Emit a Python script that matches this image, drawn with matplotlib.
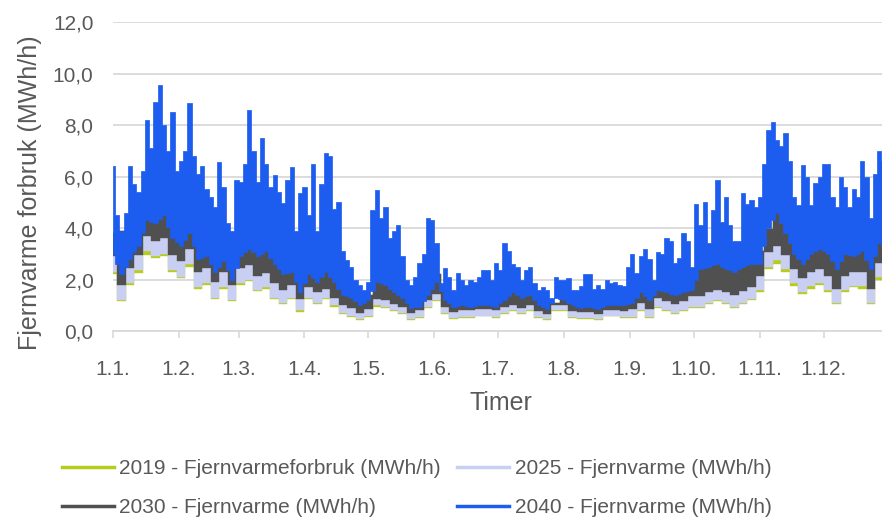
import numpy as np
import matplotlib
matplotlib.use("Agg")
import matplotlib.pyplot as plt
from matplotlib.lines import Line2D

plt.rcParams['font.family'] = ['Liberation Sans Narrow', 'Liberation Sans', 'DejaVu Sans']

# 2040 - upper envelope of the hourly values, every 2nd day (MWh/h)
blue_top = [6.4, 4.5, 3.9, 4.6, 6.4, 5.7, 5.4, 6.2, 8.2, 7.1, 8.9, 9.55, 8.0, 7.0, 8.5, 6.2,
            6.6, 7.0, 8.85, 6.8, 6.1, 6.4, 5.5, 5.2, 4.8, 6.56, 5.6, 4.2, 3.9, 5.86, 5.8, 6.5,
            8.6, 7.0, 5.8, 7.5, 6.5, 5.6, 6.05, 5.4, 4.97, 5.86, 6.37, 3.9, 5.35, 5.6, 4.5, 6.5,
            3.9, 5.7, 6.9, 6.8, 4.75, 5.0, 3.1, 2.75, 2.5, 2.0, 1.8, 1.6, 1.9, 4.7, 5.47, 4.4,
            4.8, 3.6, 3.9, 4.1, 2.9, 2.0, 1.8, 2.1, 2.65, 3.0, 4.4, 4.3, 3.4, 1.85, 2.45, 2.1,
            1.6, 2.25, 2.0, 1.8, 2.0, 1.9, 2.1, 2.35, 2.35, 2.0, 2.65, 2.35, 3.4, 3.1, 2.6, 2.5,
            2.0, 2.35, 2.5, 1.85, 1.6, 1.7, 1.6, 1.3, 2.1, 2.0, 2.0, 2.05, 1.6, 1.6, 1.75, 2.2,
            2.2, 1.65, 1.8, 1.65, 2.0, 1.85, 1.9, 1.8, 1.75, 2.5, 3.0, 2.25, 2.9, 3.2, 2.8, 2.0,
            3.05, 3.0, 3.6, 3.5, 2.65, 2.85, 3.8, 3.5, 2.5, 4.95, 4.1, 5.0, 3.4, 4.7, 5.85, 4.25,
            5.2, 4.1, 3.5, 3.5, 5.35, 4.95, 5.1, 4.8, 5.2, 6.5, 7.8, 8.1, 7.4, 7.2, 7.7, 6.6,
            5.2, 4.9, 6.45, 6.0, 4.9, 5.75, 6.0, 6.5, 6.5, 5.2, 4.8, 6.0, 5.6, 4.8, 5.5, 5.2,
            6.6, 6.0, 4.4, 6.1, 7.0, 6.6, 6.9]

# lower envelopes, every 4th day (MWh/h)
blue_bottom = [3.0, 2.2, 2.8, 3.3, 4.3, 4.2, 4.5, 3.6, 3.3, 3.8, 2.8, 2.9, 2.3, 2.7, 2.0, 2.9,
               3.2, 2.9, 3.1, 2.6, 2.2, 2.3, 1.5, 2.2, 1.9, 2.3, 1.9, 1.4, 1.3, 1.0, 1.2,
               1.9, 1.8, 1.5, 1.3, 0.9, 0.95, 1.4, 1.9, 1.2, 0.95, 1.0, 0.95, 1.0, 1.0, 0.95, 1.2,
               1.5, 1.3, 1.4, 1.0, 0.85, 1.3, 1.2, 1.0, 0.9, 0.95, 0.85, 1.0, 1.0, 1.0,
               1.1, 1.5, 1.2, 1.6, 1.5, 1.4, 1.5, 1.6, 2.4, 2.5, 2.6, 2.4, 2.3, 2.5, 2.6,
               2.6, 4.0, 4.6, 3.8, 3.0, 2.6, 3.0, 3.2, 3.0, 2.4, 3.0, 2.9, 3.1, 2.4, 3.4,
               3.2]
gray_bottom = [2.9, 1.8, 2.45, 2.95, 3.7, 3.5, 3.6, 2.95, 2.7, 3.2, 2.3, 2.45, 1.9, 2.3, 1.8, 2.45,
               2.55, 2.15, 2.25, 1.85, 1.6, 1.8, 1.25, 1.7, 1.5, 1.65, 1.3, 1.0, 0.9, 0.7, 0.85,
               1.25, 1.2, 1.05, 0.95, 0.7, 0.8, 1.2, 1.45, 0.95, 0.75, 0.8, 0.8, 0.85, 0.85, 0.8, 0.95,
               1.0, 0.9, 1.0, 0.77, 0.67, 1.0, 1.0, 0.77, 0.72, 0.72, 0.67, 0.82, 0.82, 0.77,
               0.85, 1.1, 0.85, 1.3, 1.15, 1.05, 1.15, 1.35, 1.35, 1.5, 1.6, 1.5, 1.4, 1.55, 1.7,
               2.15, 3.05, 3.3, 2.95, 2.4, 2.05, 2.3, 2.4, 2.15, 1.65, 2.15, 2.3, 2.3, 1.65, 2.65,
               2.55]
lav_bottom = [2.3, 1.2, 1.85, 2.35, 3.1, 2.9, 3.0, 2.35, 2.1, 2.6, 1.7, 1.85, 1.3, 1.7, 1.2, 1.85,
              2.0, 1.6, 1.7, 1.3, 1.1, 1.3, 0.8, 1.3, 1.1, 1.3, 1.0, 0.7, 0.6, 0.45, 0.6,
              1.0, 0.95, 0.8, 0.7, 0.45, 0.55, 0.95, 1.2, 0.7, 0.5, 0.55, 0.55, 0.6, 0.6, 0.55, 0.7,
              0.8, 0.7, 0.8, 0.55, 0.45, 0.8, 0.8, 0.55, 0.5, 0.5, 0.45, 0.6, 0.6, 0.55,
              0.55, 0.8, 0.55, 0.95, 0.8, 0.7, 0.8, 0.95, 0.95, 1.1, 1.2, 1.1, 0.95, 1.1, 1.25,
              1.6, 2.5, 2.75, 2.4, 1.85, 1.5, 1.75, 1.85, 1.6, 1.1, 1.6, 1.75, 1.75, 1.1, 2.1,
              2.0]
yel_bottom = [2.2, 1.15, 1.8, 2.25, 2.95, 2.85, 2.9, 2.3, 2.05, 2.5, 1.65, 1.8, 1.25, 1.65, 1.15, 1.8,
              1.95, 1.55, 1.65, 1.25, 1.05, 1.25, 0.75, 1.25, 1.05, 1.25, 0.95, 0.65, 0.55, 0.42, 0.55,
              0.95, 0.9, 0.77, 0.67, 0.42, 0.52, 0.9, 1.15, 0.67, 0.47, 0.52, 0.52, 0.57, 0.57, 0.52, 0.67,
              0.77, 0.67, 0.77, 0.52, 0.42, 0.77, 0.77, 0.52, 0.47, 0.47, 0.42, 0.57, 0.57, 0.52,
              0.52, 0.77, 0.52, 0.9, 0.77, 0.67, 0.77, 0.9, 0.9, 1.05, 1.15, 1.05, 0.9, 1.05, 1.2,
              1.5, 2.4, 2.6, 2.3, 1.75, 1.45, 1.65, 1.8, 1.5, 1.05, 1.5, 1.7, 1.65, 1.05, 2.0,
              1.9]
# upper envelope of 2019/2025/2030, every 8th day (sits under the 2040 band)
lower_top = [3.8, 4.0, 5.0, 5.2, 4.5, 4.0, 3.4, 3.0, 4.0, 4.0, 3.2, 2.8, 3.0, 3.0, 1.6, 1.4,
             2.8, 1.8, 1.3, 2.2, 1.3, 1.3, 1.4, 1.6, 1.7, 1.3, 1.1, 1.4, 1.2, 1.2, 1.3, 1.6,
             1.8, 2.1, 2.2, 3.0, 3.2, 2.9, 3.1, 4.8, 4.8, 3.6, 3.8, 3.3, 3.4, 3.6, 3.6]

month_starts = [0, 31, 59, 90, 120, 151, 181, 212, 243, 273, 304, 334]
month_labels = ["1.1.", "1.2.", "1.3.", "1.4.", "1.5.", "1.6.", "1.7.", "1.8.", "1.9.",
                "1.10.", "1.11.", "1.12."]
labels = ["2019 - Fjernvarmeforbruk (MWh/h)", "2025 - Fjernvarme (MWh/h)",
          "2030 - Fjernvarme (MWh/h)", "2040 - Fjernvarme (MWh/h)"]

c2019 = "#B8CC1E"
c2025 = "#C9CFF2"
c2030 = "#505050"
c2040 = "#1C5CEE"
txt = "#595959"

d2 = np.arange(0, 2 * len(blue_top), 2)
d4 = np.arange(0, 4 * len(blue_bottom), 4)
d8 = np.arange(0, 8 * len(lower_top), 8)
top4 = np.interp(d4, d8, lower_top)
bb2 = np.interp(d2, d4, blue_bottom)

fig = plt.figure(figsize=(8.82, 5.18), dpi=100)
ax = fig.add_axes([0.128, 0.361, 0.881, 0.5965])

ax.fill_between(d4, yel_bottom, top4, color=c2019, lw=0.3, step="mid", zorder=2)
ax.fill_between(d4, lav_bottom, top4, color=c2025, lw=0.3, step="mid", zorder=3)
ax.fill_between(d4, gray_bottom, top4, color=c2030, lw=0.3, step="mid", zorder=4)
ax.fill_between(d2, bb2, blue_top, color=c2040, lw=0.5, step="mid", zorder=5)

ax.set_xlim(0, 365)
ax.set_ylim(0, 12)
ax.set_yticks(np.arange(0, 13, 2))
ax.set_yticklabels([f"{v:.1f}".replace(".", ",") for v in np.arange(0, 13, 2)])
ax.set_xticks(month_starts)
ax.set_xticklabels(month_labels)
ax.grid(axis="y", color="#D9D9D9", lw=1.3, zorder=0)
ax.set_axisbelow(True)
for s in ["top", "right", "left"]:
    ax.spines[s].set_visible(False)
ax.spines["bottom"].set_color("#D9D9D9")
ax.spines["bottom"].set_linewidth(1.3)
ax.tick_params(axis="y", length=0, pad=14, labelsize=15, labelcolor=txt)
ax.tick_params(axis="x", length=5, width=1.2, color="#D9D9D9", pad=16, labelsize=15, labelcolor=txt)

ax.set_ylabel("Fjernvarme forbruk (MWh/h)", fontsize=18, color=txt)
ax.yaxis.set_label_coords(-0.091, 0.447)
ax.set_xlabel("Timer", fontsize=18, color=txt, va="top")
ax.xaxis.set_label_coords(0.5, -0.195)

handles = [Line2D([], [], color=c, lw=2.5) for c in [c2019, c2030, c2025, c2040]]
fig.legend(handles, [labels[0], labels[2], labels[1], labels[3]], ncol=2, loc="upper left",
           bbox_to_anchor=(0.070, 0.113), frameon=False, fontsize=15, labelcolor=txt,
           handlelength=2.5, handletextpad=0.25, columnspacing=0.8, labelspacing=0.95,
           borderpad=0, borderaxespad=0)

fig.savefig("out.png", dpi=100)
